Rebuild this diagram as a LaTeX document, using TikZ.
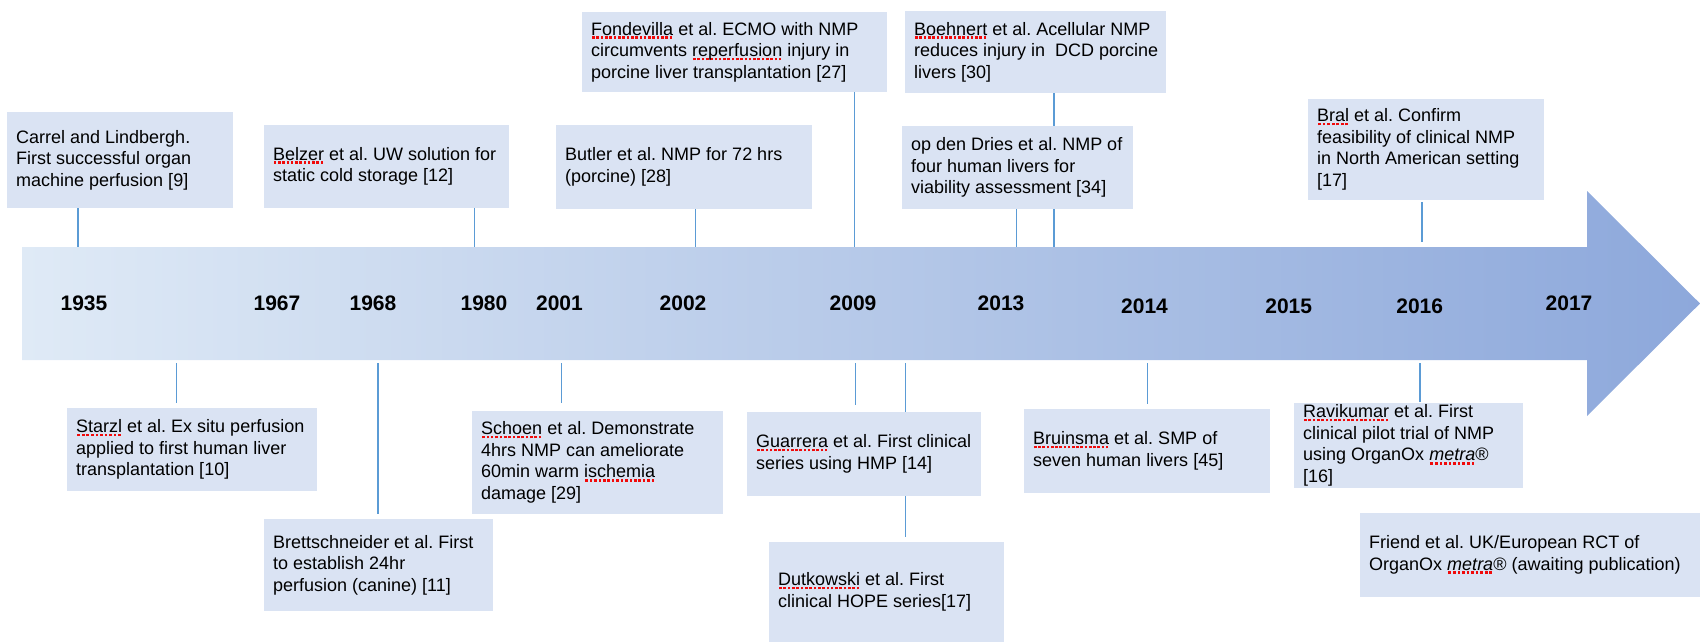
\documentclass[tikz,border=0pt]{standalone}
\usepackage{fontspec}
\setmainfont{Liberation Sans}
\frenchspacing
\definecolor{boxfill}{RGB}{218,227,243}
\definecolor{conn}{RGB}{91,155,213}
\definecolor{arrL}{RGB}{223,234,246}
\definecolor{arrR}{RGB}{141,168,219}
\definecolor{sqred}{RGB}{240,10,10}
\newsavebox\sqbox
\newcommand\sq[1]{\sbox\sqbox{#1}\rlap{\textcolor{sqred}{\raisebox{-3.6pt}{\hbox to \wd\sqbox{\xleaders\hbox to 4.2pt{\hss\rule{2.6pt}{2.6pt}\hss}\hfill}}}}\usebox\sqbox}
\pgfdeclarelayer{bg}
\pgfsetlayers{bg,main}
\newcommand\EV[6]{%
  \node[evbox, minimum width=#4pt, minimum height=#5pt] (#1) at (#2,#3) {};
  \node[evtext] (#1-t) at ([xshift=9pt]#1.west) {#6};}
\begin{document}
\begin{tikzpicture}[x=1pt,y=-1pt,
  evbox/.style={rectangle, fill=boxfill, draw=none, inner sep=0pt, outer sep=0pt},
  evtext/.style={anchor=west, inner sep=0pt, align=left, font=\fontsize{18}{21.6}\selectfont\frenchspacing},
  yr/.style={inner sep=0pt, font=\fontsize{21}{25}\selectfont\bfseries},
  link/.style={draw=conn, line width=1.3pt},
  linkdown/.style={link, shorten <=3pt, shorten >=5pt}]
\useasboundingbox (0,0) rectangle (1700,642);

% arrow body (for connector anchors)
\node[inner sep=0pt, outer sep=0pt, minimum width=1565pt, minimum height=113pt] (body) at (804.5,303.5) {};

% years
\node[yr] (y1935) at (84,303) {1935};
\node[yr] (y1967) at (277,303) {1967};
\node[yr] (y1968) at (373,303) {1968};
\node[yr] (y1980) at (484,303) {1980};
\node[yr] (y2001) at (559.5,303) {2001};
\node[yr] (y2002) at (683,303) {2002};
\node[yr] (y2009) at (853,303) {2009};
\node[yr] (y2013) at (1001,303) {2013};
\node[yr] (y2014) at (1144.5,306) {2014};
\node[yr] (y2015) at (1288.7,306) {2015};
\node[yr] (y2016) at (1419.7,306) {2016};
\node[yr] (y2017) at (1569,303) {2017};

% top events
\EV{carrel}{120}{160}{226}{96}{Carrel and Lindbergh.\\First successful organ\\machine perfusion [9]}
\EV{belzer}{386.3}{166.5}{245}{83}{\sq{Belzer} et al. UW solution for\\static cold storage [12]}
\EV{fond}{734.5}{52}{305}{80}{\sq{Fondevilla} et al. ECMO with NMP\\circumvents \sq{reperfusion} injury in\\porcine liver transplantation [27]}
\EV{butler}{684}{167}{256}{84}{Butler et al. NMP for 72 hrs\\(porcine) [28]}
\EV{boeh}{1035.5}{52}{261}{82}{\sq{Boehnert} et al. Acellular NMP\\reduces injury in\ \ DCD porcine\\livers [30]}
\EV{opden}{1017.5}{167.5}{231}{83}{op den Dries et al. NMP of\\four human livers for\\viability assessment [34]}
\EV{bral}{1426}{149.5}{236}{101}{\sq{Bral} et al. Confirm\\feasibility of clinical NMP\\in North American setting\\{[17]}}

% bottom events
\EV{starzl}{192}{449.5}{250}{83}{\sq{Starzl} et al. Ex situ perfusion\\applied to first human liver\\transplantation [10]}
\EV{brett}{378.5}{565}{229}{92}{Brettschneider et al. First\\to establish 24hr\\perfusion (canine) [11]}
\EV{schoen}{597.5}{462.5}{251}{103}{\sq{Schoen} et al. Demonstrate\\4hrs NMP can ameliorate\\60min warm \sq{ischemia}\\damage [29]}
\EV{guar}{864}{454}{234}{84}{\sq{Guarrera} et al. First clinical\\series using HMP [14]}
\EV{dutk}{886.5}{592}{235}{100}{\sq{Dutkowski} et al. First\\clinical HOPE series[17]}
\EV{bruin}{1147}{451}{246}{84}{\sq{Bruinsma} et al. SMP of\\seven human livers [45]}
\EV{ravi}{1408.5}{445.5}{229}{85}{\sq{Ravikumar} et al. First\\clinical pilot trial of NMP\\using OrganOx \sq{\textit{metra}}®\\{[16]}}
\EV{friend}{1530}{555}{340}{84}{Friend et al. UK/European RCT of\\OrganOx \sq{\textit{metra}}® (awaiting publication)}

\begin{pgfonlayer}{bg}
  \shade[left color=arrL, right color=arrR]
    (22,247) -- (1587,247) -- (1587,191) -- (1700,303.5) -- (1587,416) -- (1587,360) -- (22,360) -- cycle;
  % connectors above the arrow
  \draw[link] (78,0 |- carrel.south) -- (78,0 |- body.north);
  \draw[link] (474.6,0 |- belzer.south) -- (474.6,0 |- body.north);
  \draw[link] (695.6,0 |- butler.south) -- (695.6,0 |- body.north);
  \draw[link] (854.6,0 |- fond.south) -- (854.6,0 |- body.north);
  \draw[link] (1016.7,0 |- opden.south) -- (1016.7,0 |- body.north);
  \draw[link] (1054,0 |- boeh.south) -- (1054,0 |- body.north);
  \draw[link, shorten <=2pt, shorten >=5pt] (1422,0 |- bral.south) -- (1422,0 |- body.north);
  % connectors below the arrow
  \draw[linkdown] (176.5,0 |- body.south) -- (176.5,0 |- starzl.north);
  \draw[linkdown] (378,0 |- body.south) -- (378,0 |- brett.north);
  \draw[linkdown, shorten >=8pt] (561.6,0 |- body.south) -- (561.6,0 |- schoen.north);
  \draw[linkdown, shorten >=7pt] (855.6,0 |- body.south) -- (855.6,0 |- guar.north);
  \draw[linkdown] (905.7,0 |- body.south) -- (905.7,0 |- dutk.north);
  \draw[linkdown] (1147.6,0 |- body.south) -- (1147.6,0 |- bruin.north);
  \draw[linkdown, shorten >=1pt] (1420,0 |- body.south) -- (1420,0 |- ravi.north);
\end{pgfonlayer}
\end{tikzpicture}
\end{document}
